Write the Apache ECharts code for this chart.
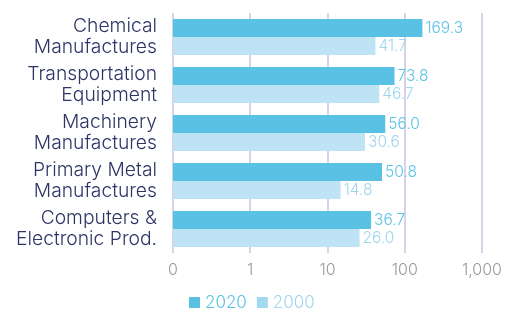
<!DOCTYPE html>
<html><head><meta charset="utf-8">
<script src="https://cdn.jsdelivr.net/npm/echarts@6/dist/echarts.min.js"></script>
<style>html,body{margin:0;padding:0;background:#fff}#c{width:505px;height:309px}</style>
</head><body><div id="c"></div>
<script>
const categories = ["Chemical\nManufactures","Transportation\nEquipment","Machinery\nManufactures","Primary Metal\nManufactures","Computers &\nElectronic Prod."];
const seriesNames = ["2020","2000"];
const values2020 = [169.3, 73.8, 56.0, 50.8, 36.7];
const values2000 = [41.7, 46.7, 30.6, 14.8, 26.0];
const tickLabels = ["0","1","10","100","1,000"];

// log-scale position: decades above 0.1 (axis starts at 0.1, labelled "0")
const pos = v => Math.log10(v) + 1;
const FONT = 'Inter';
const c1 = '#59c2e4', c2 = '#bde3f4';
const mk = (vals) => vals.map(v => ({value: pos(v), raw: v}));
const chart = echarts.init(document.getElementById('c'), null, {renderer:'canvas'});
chart.setOption({
  animation:false,
  textStyle:{fontFamily:FONT},
  grid:{left:173, right:23, top:13, height:240},
  legend:{
    top:289, left:184, itemWidth:11, itemHeight:11, itemGap:10, icon:'rect',
    textStyle:{fontFamily:FONT, fontSize:17, fontWeight:300},
    data:[{name:'2020', textStyle:{color:'#5bc4e6'}},{name:'2000', textStyle:{color:'#9fd6ee'}, itemStyle:{color:'#a3d8f0'}}]
  },
  xAxis:{type:'value', min:0, max:4, interval:1,
    axisLine:{show:false}, axisTick:{show:false},
    splitLine:{show:true, lineStyle:{color:'#d6d3e6', width:2}},
    axisLabel:{color:'#9a9a9a', fontSize:16, fontWeight:300, margin:9, fontFamily:FONT,
      formatter:v=> tickLabels[Math.round(v)]}
  },
  yAxis:{type:'category', data:categories, inverse:true,
    axisLine:{show:false}, axisTick:{show:false},
    axisLabel:{color:'#2e3566', fontSize:19.3, lineHeight:21, margin:16, fontFamily:FONT, fontWeight:300, align:'right'}
  },
  series:[
    {name:'2020', type:'bar', data:mk(values2020), barGap:'0%', barCategoryGap:'25%', itemStyle:{color:c1},
     label:{show:true, position:'right', distance:3, color:'#5bc4e6', fontSize:15.5, fontFamily:FONT, fontWeight:300, formatter:p=>p.data.raw.toFixed(1)}},
    {name:'2000', type:'bar', data:mk(values2000), barGap:'0%', barCategoryGap:'25%', itemStyle:{color:c2},
     label:{show:true, position:'right', distance:3, color:'#9fd6ee', fontSize:15.5, fontFamily:FONT, fontWeight:300, formatter:p=>p.data.raw.toFixed(1)}}
  ]
});
</script></body></html>
